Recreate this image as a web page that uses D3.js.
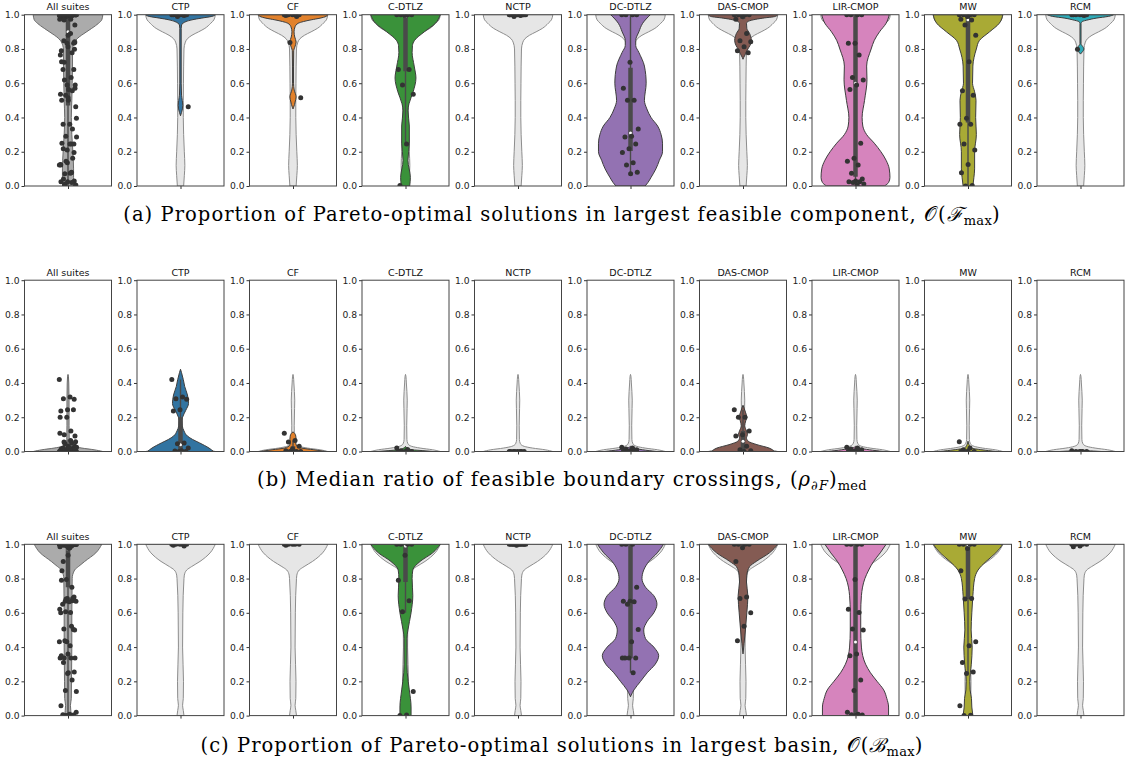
<!DOCTYPE html>
<html><head><meta charset="utf-8">
<script src="https://cdn.jsdelivr.net/npm/d3@7"></script>
<style>body{margin:0;background:#fff}svg{display:block}</style>
</head><body><svg id="chart" width="1129" height="765"></svg>
<script>
// ---------------- DATA ----------------
const suites = ["All suites","CTP","CF","C-DTLZ","NCTP","DC-DTLZ","DAS-CMOP","LIR-CMOP","MW","RCM"];
const suiteColors = ["#ababab","#3274a1","#e1812c","#3a923a","#c03d3e","#9372b2","#845b53","#d684bd","#a9aa35","#2eabb8"];
const yTicks = [0,0.2,0.4,0.6,0.8,1.0];
const captionText = [
  "(a) Proportion of Pareto-optimal solutions in largest feasible component, ",
  "(b) Median ratio of feasible boundary crossings, ",
  "(c) Proportion of Pareto-optimal solutions in largest basin, "
];

// Row (a): strip points per suite (index 0 = all suites, built as union)
const pointsA = [null,
  [1,1,1,1,1,1,0.995,0.99,0.463],
  [1,1,1,1,1,0.995,0.99,0.838,0.515],
  [1,1,1,1,0.995,0.68,0.68,0.59,0.535,0.245,0.003],
  [1,1,1,1,1,1,1,1,1,1,1,1,1,1,0.995,0.99],
  [1,1,1,1,0.722,0.57,0.5,0.5,0.333,0.29,0.286,0.245,0.218,0.196,0.136,0.123,0.08,0.072],
  [1,1,1,1,0.99,0.973,0.89,0.848,0.842,0.813,0.79,0.778],
  [1,1,1,1,0.833,0.833,0.765,0.634,0.619,0.59,0.564,0.249,0.162,0.144,0.123,0.074,0.041,0.029,0.025,0.025,0.021,0.012,0.006],
  [1,1,1,1,0.99,0.973,0.969,0.94,0.88,0.725,0.556,0.53,0.395,0.36,0.36,0.245,0.21,0.126,0.078,0.003,0],
  [1,1,1,1,1,1,0.995,0.798]
];
// violin outlines: [value, relative half width]
const bgA = [[1,1],[0.97,0.96],[0.95,0.87],[0.92,0.7],[0.9,0.52],[0.88,0.33],[0.86,0.2],[0.84,0.14],[0.8,0.1],[0.7,0.09],[0.6,0.085],[0.5,0.08],[0.4,0.08],[0.3,0.09],[0.2,0.11],[0.12,0.125],[0.06,0.11],[0,0.09]];
const violinsA = [
  [[1,1],[0.97,0.97],[0.95,0.88],[0.92,0.68],[0.89,0.46],[0.87,0.32],[0.85,0.22],[0.82,0.15],[0.8,0.13],[0.7,0.13],[0.6,0.12],[0.5,0.11],[0.4,0.095],[0.3,0.11],[0.2,0.14],[0.1,0.16],[0.05,0.16],[0,0.15]],
  [[1,1],[0.99,0.9],[0.98,0.6],[0.97,0.33],[0.96,0.16],[0.95,0.07],[0.94,0.03],[0.92,0.02],[0.6,0.02],[0.53,0.03],[0.5,0.05],[0.47,0.065],[0.45,0.055],[0.43,0.03],[0.41,0]],
  [[1,1],[0.99,0.95],[0.98,0.78],[0.97,0.52],[0.96,0.3],[0.95,0.15],[0.93,0.06],[0.9,0.03],[0.87,0.05],[0.84,0.09],[0.81,0.05],[0.79,0.02],[0.7,0.015],[0.6,0.015],[0.56,0.035],[0.52,0.09],[0.49,0.06],[0.46,0.02],[0.45,0]],
  [[1,1],[0.95,0.86],[0.9,0.54],[0.85,0.26],[0.82,0.2],[0.78,0.19],[0.7,0.25],[0.63,0.3],[0.55,0.22],[0.48,0.1],[0.44,0.07],[0.35,0.11],[0.25,0.11],[0.15,0.07],[0.05,0.14],[0,0.12]],
  null,
  [[1,0.57],[0.95,0.35],[0.9,0.24],[0.85,0.15],[0.82,0.15],[0.78,0.24],[0.7,0.4],[0.6,0.45],[0.5,0.4],[0.45,0.47],[0.4,0.59],[0.35,0.78],[0.3,0.88],[0.25,0.92],[0.2,0.92],[0.15,0.83],[0.1,0.73],[0.05,0.59],[0.02,0.5],[0,0.42]],
  [[1,1],[0.99,0.93],[0.98,0.57],[0.97,0.29],[0.96,0.14],[0.95,0.1],[0.92,0.11],[0.89,0.19],[0.85,0.24],[0.82,0.2],[0.8,0.14],[0.77,0.07],[0.75,0.02],[0.74,0]],
  [[1,0.97],[0.95,0.88],[0.9,0.69],[0.85,0.54],[0.8,0.45],[0.7,0.32],[0.62,0.33],[0.5,0.26],[0.4,0.19],[0.35,0.21],[0.3,0.32],[0.25,0.54],[0.2,0.73],[0.15,0.88],[0.1,0.97],[0.05,0.99],[0.02,0.95],[0,0.83]],
  [[1,1],[0.95,0.9],[0.9,0.62],[0.85,0.33],[0.8,0.24],[0.7,0.14],[0.6,0.13],[0.55,0.19],[0.5,0.23],[0.4,0.22],[0.3,0.24],[0.2,0.19],[0.1,0.19],[0.05,0.17],[0,0.14]],
  [[1,0.95],[0.99,0.8],[0.98,0.45],[0.97,0.22],[0.96,0.05],[0.95,0.015],[0.83,0.015],[0.815,0.06],[0.8,0.1],[0.785,0.06],[0.775,0.02],[0.77,0]]
];
// box stats: [whisker low, q1, median, q3, whisker high]
const boxA = [
  [0,0.47,0.9,1,1],[0.995,1,1,1,1],[0.99,1,1,1,1],[0.245,0.67,0.99,1,1],[1,1,1,1,1],
  [0.072,0.205,0.31,0.69,1],[0.972,0.975,1,1,1],[0.006,0.054,0.6,1,1],[0,0.37,0.97,1,1],[1,1,1,1,1]
];

// Row (b)
const pointsB = [null,
  [0.42,0.318,0.308,0.305,0.244,0.236,0.049,0.045,0.02,0.005,0.003,0,0],
  [0.107,0.064,0.055,0.03,0.015,0.005,0,0,0,0],
  [0.02,0.012,0.005,0,0,0],
  [0,0,0,0,0,0,0,0],
  [0.025,0.02,0.015,0.01,0.005,0,0,0],
  [0.244,0.2,0.2,0.119,0.098,0.09,0.03,0.01,0.005,0],
  [0.025,0.02,0.015,0.01,0.005,0,0,0],
  [0.057,0.02,0.01,0,0,0],
  [0.005,0,0,0,0]
];
const bgB = [[0,1],[0.01,0.78],[0.02,0.42],[0.03,0.18],[0.045,0.07],[0.07,0.04],[0.15,0.035],[0.25,0.045],[0.3,0.05],[0.35,0.04],[0.4,0.025],[0.44,0.012],[0.45,0]];
const violinsB = [
  [[0,1],[0.01,0.75],[0.02,0.4],[0.03,0.16],[0.045,0.06],[0.07,0.035],[0.15,0.03],[0.3,0.03],[0.4,0.022],[0.44,0.012],[0.45,0]],
  [[0,0.95],[0.02,0.82],[0.05,0.55],[0.07,0.35],[0.09,0.2],[0.12,0.1],[0.15,0.05],[0.18,0.04],[0.2,0.06],[0.24,0.15],[0.28,0.23],[0.33,0.2],[0.38,0.12],[0.42,0.08],[0.46,0.03],[0.48,0]],
  [[0,0.95],[0.01,0.6],[0.02,0.25],[0.035,0.1],[0.05,0.08],[0.07,0.09],[0.09,0.08],[0.105,0.05],[0.115,0]],
  [[0,0.8],[0.005,0.5],[0.01,0.2],[0.02,0.05],[0.03,0]],
  null,
  [[0,0.75],[0.01,0.35],[0.02,0.1],[0.03,0]],
  [[0,0.9],[0.02,0.75],[0.04,0.4],[0.06,0.15],[0.08,0.1],[0.1,0.13],[0.12,0.1],[0.15,0.05],[0.18,0.08],[0.2,0.11],[0.23,0.07],[0.26,0.02],[0.27,0]],
  [[0,0.8],[0.01,0.4],[0.02,0.1],[0.03,0]],
  [[0,0.8],[0.01,0.4],[0.02,0.1],[0.04,0.03],[0.06,0]],
  [[0,0.6],[0.005,0.2],[0.01,0]]
];
const boxB = [
  [0,0,0.005,0.03,0.07],[0,0.003,0.04,0.2,0.42],[0,0,0.005,0.03,0.064],[0,0,0,0.005,0.012],[0,0,0,0,0],
  [0,0,0.005,0.015,0.025],[0,0.005,0.06,0.119,0.244],[0,0,0.005,0.015,0.025],[0,0,0,0.01,0.02],[0,0,0,0,0.005]
];

// Row (c)
const pointsC = [null,
  [1,1,1,1,1,0.995,0.99],
  [1,1,1,1,1,0.995],
  [1,1,1,1,0.936,0.79,0.67,0.606,0.14,0.003,0],
  [1,1,1,1,1,1,1,1,1,1,1,1,0.995],
  [1,1,1,0.75,0.668,0.668,0.664,0.65,0.503,0.431,0.336,0.336,0.336,0.336,0.25],
  [1,1,1,1,0.98,0.9,0.693,0.683,0.6,0.522,0.437],
  [1,1,1,1,0.794,0.621,0.602,0.505,0.5,0.36,0.35,0.208,0.146,0.02,0.008,0.005,0.003,0],
  [1,1,1,1,0.975,0.845,0.683,0.68,0.431,0.408,0.31,0.254,0.246,0.058,0.002,0],
  [1,1,1,1,0.99,0.985]
];
const bgC = [[1,1],[0.95,0.85],[0.9,0.56],[0.87,0.32],[0.85,0.18],[0.82,0.11],[0.8,0.1],[0.6,0.067],[0.4,0.06],[0.2,0.086],[0.1,0.08],[0.06,0.06],[0.03,0.08],[0,0.1]];
const violinsC = [
  [[1,0.97],[0.95,0.8],[0.9,0.48],[0.87,0.3],[0.85,0.19],[0.8,0.12],[0.6,0.11],[0.4,0.11],[0.2,0.1],[0.1,0.095],[0.06,0.07],[0.03,0.08],[0,0.09]],
  null, null,
  [[1,1],[0.95,0.78],[0.9,0.42],[0.85,0.21],[0.8,0.19],[0.7,0.21],[0.6,0.16],[0.5,0.07],[0.45,0.04],[0.3,0.04],[0.25,0.05],[0.15,0.11],[0.05,0.16],[0,0.16]],
  null,
  [[1,0.95],[0.95,0.77],[0.9,0.53],[0.85,0.38],[0.8,0.33],[0.75,0.43],[0.7,0.67],[0.65,0.76],[0.6,0.67],[0.55,0.48],[0.5,0.38],[0.45,0.43],[0.4,0.67],[0.35,0.81],[0.3,0.71],[0.25,0.48],[0.2,0.29],[0.15,0.1],[0.12,0.02],[0.11,0]],
  [[1,1],[0.95,0.76],[0.9,0.38],[0.87,0.19],[0.82,0.11],[0.78,0.1],[0.7,0.14],[0.65,0.13],[0.6,0.11],[0.5,0.07],[0.42,0.03],[0.36,0]],
  [[1,0.88],[0.95,0.71],[0.9,0.52],[0.85,0.38],[0.8,0.27],[0.7,0.17],[0.6,0.15],[0.5,0.15],[0.4,0.17],[0.3,0.29],[0.25,0.43],[0.2,0.62],[0.15,0.81],[0.1,0.9],[0.05,0.95],[0,0.95]],
  [[1,1],[0.95,0.8],[0.9,0.52],[0.85,0.29],[0.8,0.19],[0.7,0.14],[0.6,0.11],[0.5,0.09],[0.4,0.12],[0.3,0.095],[0.2,0.05],[0.15,0.06],[0.1,0.1],[0.05,0.11],[0,0.14]],
  null
];
const boxC = [
  [0,0.75,0.97,1,1],[1,1,1,1,1],[1,1,1,1,1],[0.6,0.78,0.99,1,1],[1,1,1,1,1],
  [0.25,0.335,0.665,1,1],[0.975,0.99,1,1,1],[0,0.005,0.43,1,1],[0.246,0.68,0.99,1,1],[0.985,0.99,1,1,1]
];

// ---------------- LAYOUT ----------------
const panelLeft0 = 24.5, panelStep = 112.5, panelW = 87, panelH = 171.3;
const rowTops = [14.7, 280.2, 544.3];
const captionY = [221, 486, 752];
const svg = d3.select("#chart");
const defs = svg.append("defs");

const rows = [
  {points: pointsA, violins: violinsA, bg: bgA, box: boxA},
  {points: pointsB, violins: violinsB, bg: bgB, box: boxB},
  {points: pointsC, violins: violinsC, bg: bgC, box: boxC}
];

const jitter = k => (((k * 0.6180339887) % 1) - 0.5) * 0.2;

rows.forEach((row, r) => {
  const top = rowTops[r];
  const y = d3.scaleLinear().domain([0, 1]).range([top + panelH, top]);
  const allPts = row.points.slice(1).flat();
  suites.forEach((name, i) => {
    const left = panelLeft0 + i * panelStep;
    const x = d3.scaleLinear().domain([-0.5, 0.5]).range([left, left + panelW]);
    const clipId = `clip-${r}-${i}`;
    defs.append("clipPath").attr("id", clipId).append("rect")
      .attr("x", left).attr("y", top).attr("width", panelW).attr("height", panelH);
    const g = svg.append("g");
    const plot = g.append("g").attr("clip-path", `url(#${clipId})`);
    const area = d3.area()
      .y(d => y(d[0]))
      .x0(d => x(-d[1] * 0.4))
      .x1(d => x(d[1] * 0.4))
      .curve(d3.curveMonotoneY);
    if (i > 0) {
      plot.append("path").datum(row.bg).attr("d", area)
        .attr("fill", "#e6e6e6").attr("stroke", "#8c8c8c").attr("stroke-width", 1);
    }
    const prof = row.violins[i];
    if (prof) {
      plot.append("path").datum(prof).attr("d", area)
        .attr("fill", suiteColors[i]).attr("stroke", i === 0 ? "#6a6a6a" : "#3d3d3d").attr("stroke-width", 1);
    }
    const b = row.box[i];
    plot.append("line").attr("x1", x(0)).attr("x2", x(0)).attr("y1", y(b[0])).attr("y2", y(b[4]))
      .attr("stroke", "#4a4a4a").attr("stroke-width", 1.4);
    plot.append("line").attr("x1", x(0)).attr("x2", x(0)).attr("y1", y(b[1])).attr("y2", y(b[3]))
      .attr("stroke", "#4a4a4a").attr("stroke-width", 4.5);
    if (b[3] - b[1] > 0.02) {
      plot.append("circle").attr("cx", x(0)).attr("cy", y(b[2])).attr("r", 1.5).attr("fill", "#fff");
    }
    const pts = i === 0 ? allPts : row.points[i];
    plot.selectAll("circle.pt").data(pts).join("circle").attr("class", "pt")
      .attr("cx", (d, k) => x(jitter(k))).attr("cy", d => y(d)).attr("r", 2.5)
      .attr("fill", "#333333");
    // axes
    const ya = d3.axisLeft(y).tickValues(yTicks).tickFormat(d3.format(".1f")).tickSize(3).tickPadding(2);
    g.append("g").attr("transform", `translate(${left},0)`).call(ya)
      .attr("font-family", "DejaVu Sans").attr("font-size", 9.2)
      .call(s => s.select(".domain").remove())
      .call(s => s.selectAll("line").attr("stroke", "#333"))
      .call(s => s.selectAll("text").attr("fill", "#222"));
    const xa = d3.axisBottom(x).tickValues([0]).tickFormat("").tickSize(3);
    g.append("g").attr("transform", `translate(0,${top + panelH})`).call(xa)
      .call(s => s.select(".domain").remove())
      .call(s => s.selectAll("line").attr("stroke", "#333"));
    g.append("rect").attr("x", left).attr("y", top).attr("width", panelW).attr("height", panelH)
      .attr("fill", "none").attr("stroke", "#444").attr("stroke-width", 1);
    g.append("text").attr("x", x(0)).attr("y", top - 4.5).attr("text-anchor", "middle")
      .attr("font-family", "DejaVu Sans").attr("font-size", 9.5).attr("fill", "#111").text(name);
  });
});

// captions
const capFont = "'DejaVu Serif', serif";
function caption(r) {
  const t = svg.append("text").attr("x", 562).attr("y", captionY[r]).attr("text-anchor", "middle")
    .attr("font-family", capFont).attr("font-size", 19.5).attr("letter-spacing", 1.05)
    .attr("font-weight", 300).attr("fill", "#000");
  t.append("tspan").text(captionText[r]);
  if (r === 0 || r === 2) {
    t.append("tspan").text("𝒪(");
    t.append("tspan").attr("font-style", "italic").text(r === 0 ? "ℱ" : "ℬ");
    t.append("tspan").attr("font-size", 13).attr("letter-spacing", 0.3).attr("dy", 4).text("max");
    t.append("tspan").attr("dy", -4).text(")");
  } else {
    t.append("tspan").text("(");
    t.append("tspan").attr("font-style", "italic").text("ρ");
    t.append("tspan").attr("font-size", 13).attr("dy", 4).text("∂");
    t.append("tspan").attr("font-size", 13).attr("font-style", "italic").text("F");
    t.append("tspan").attr("dy", -4).text(")");
    t.append("tspan").attr("font-size", 13).attr("letter-spacing", 0.3).attr("dy", 4).text("med");
  }
}
[0, 1, 2].forEach(caption);
</script></body></html>
